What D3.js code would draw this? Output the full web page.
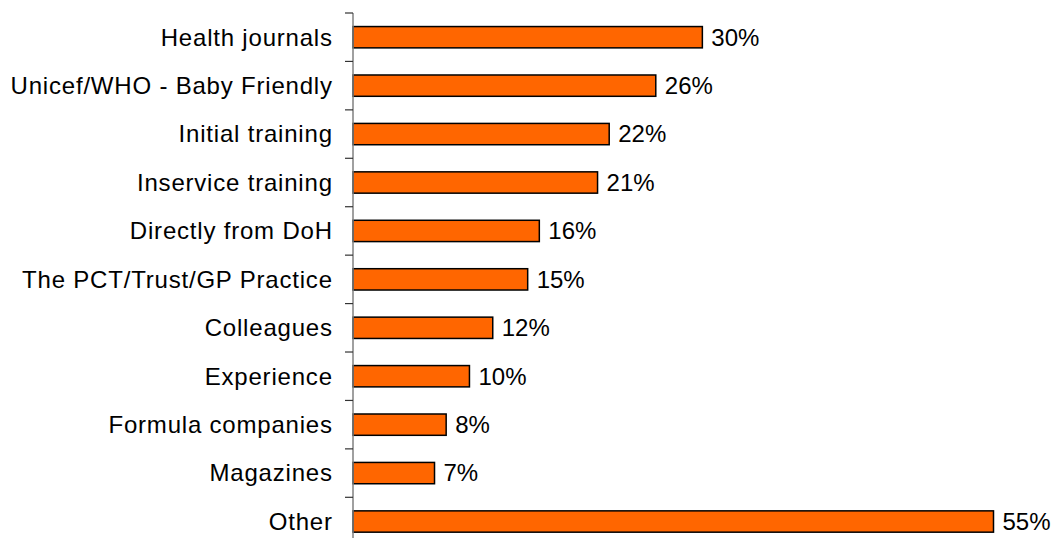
<!DOCTYPE html>
<html>
<head>
<meta charset="utf-8">
<script src="https://cdn.jsdelivr.net/npm/d3@7"></script>
<style>
  html, body { margin: 0; padding: 0; background: #fff; }
  svg { display: block; }
  text { font-family: "Liberation Sans", Arial, sans-serif; }
</style>
</head>
<body>
<svg id="chart" width="1054" height="538"></svg>
<script>
// Sources of information (% of respondents)
const categories = [
  "Health journals",
  "Unicef/WHO - Baby Friendly",
  "Initial training",
  "Inservice training",
  "Directly from DoH",
  "The PCT/Trust/GP Practice",
  "Colleagues",
  "Experience",
  "Formula companies",
  "Magazines",
  "Other"
];
const values = [30, 26, 22, 21, 16, 15, 12, 10, 8, 7, 55];

const svg = d3.select("#chart");
const axisX = 353, plotTop = 13, step = 48.43;

const y = d3.scaleBand()
  .domain(categories)
  .range([plotTop, plotTop + step * categories.length])
  .paddingInner(0.56)
  .paddingOuter(0.28);

const x = d3.scaleLinear()
  .domain([0, 55])
  .range([axisX, axisX + 640.5]);

// Bars
svg.append("g").selectAll("rect")
  .data(values)
  .join("rect")
  .attr("x", x(0))
  .attr("y", (d, i) => y(categories[i]))
  .attr("width", d => x(d) - x(0))
  .attr("height", y.bandwidth())
  .attr("fill", "#FF6600")
  .attr("stroke", "#000")
  .attr("stroke-width", 1.5);

// Value labels
svg.append("g").selectAll("text")
  .data(values)
  .join("text")
  .attr("x", d => x(d) + 9)
  .attr("y", (d, i) => y(categories[i]) + y.bandwidth() / 2)
  .attr("dy", "0.35em")
  .attr("font-size", 24)
  .attr("fill", "#000")
  .text(d => d + "%");

// Category axis: line, ticks at band boundaries, labels
const ax = svg.append("g");
ax.append("line")
  .attr("x1", axisX).attr("x2", axisX)
  .attr("y1", plotTop).attr("y2", plotTop + step * categories.length)
  .attr("stroke", "#808080").attr("stroke-width", 1.5);

const bounds = d3.range(categories.length + 1).map(i => plotTop + step * i);
ax.selectAll("line.tick")
  .data(bounds)
  .join("line")
  .attr("class", "tick")
  .attr("x1", axisX - 8).attr("x2", axisX)
  .attr("y1", d => d).attr("y2", d => d)
  .attr("stroke", "#333").attr("stroke-width", 1.2);

ax.selectAll("text")
  .data(categories)
  .join("text")
  .attr("x", axisX - 20.2)
  .attr("y", d => y(d) + y.bandwidth() / 2)
  .attr("dy", "0.35em")
  .attr("text-anchor", "end")
  .attr("font-size", 24)
  .attr("letter-spacing", 0.8)
  .attr("fill", "#000")
  .text(d => d);
</script>
</body>
</html>
